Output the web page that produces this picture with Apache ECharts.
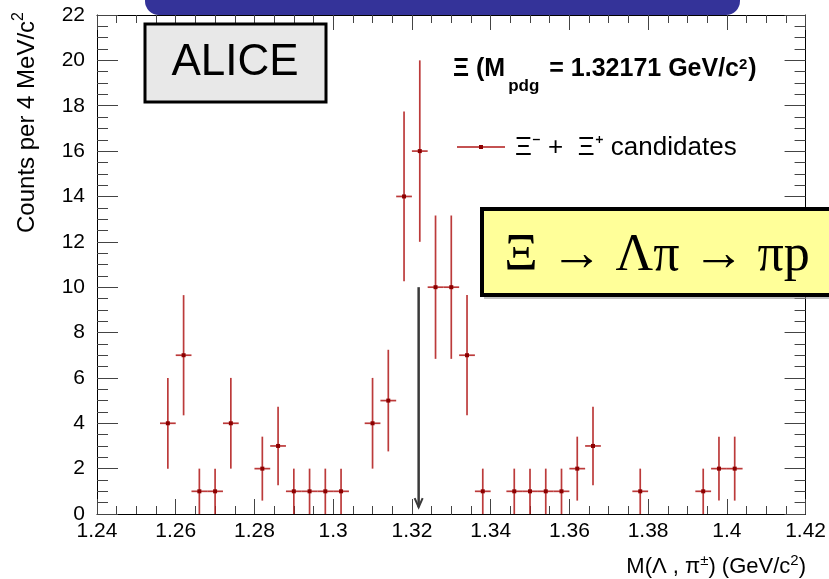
<!DOCTYPE html>
<html>
<head>
<meta charset="utf-8">
<script src="https://cdn.jsdelivr.net/npm/echarts@6/dist/echarts.min.js"></script>
<style>
  html, body { margin: 0; padding: 0; background: #fff; }
  #main { width: 829px; height: 579px; }
</style>
</head>
<body>
<div id="main"></div>
<script>
// bin centres (GeV/c^2), counts and their error bars
const binCenters = [1.258, 1.262, 1.266, 1.270, 1.274, 1.282, 1.286, 1.290, 1.294, 1.298,
  1.302, 1.310, 1.314, 1.318, 1.322, 1.326, 1.330, 1.334, 1.338, 1.346,
  1.350, 1.354, 1.358, 1.362, 1.366, 1.378, 1.394, 1.398, 1.402];
const counts = [4, 7, 1, 1, 4, 2, 3, 1, 1, 1,
  1, 4, 5, 14, 16, 10, 10, 7, 1, 1,
  1, 1, 1, 2, 3, 1, 1, 2, 2];
const errors = [2, 2.65, 1, 1, 2, 1.41, 1.73, 1, 1, 1,
  1, 2, 2.24, 3.74, 4, 3.16, 3.16, 2.65, 1, 1,
  1, 1, 1, 1.41, 1.73, 1, 1, 1.41, 1.41];
const binHalfWidth = 0.002;
const pdgMass = 1.32171;
const arrowRange = [10, 0.3];

const chart = echarts.init(document.getElementById('main'));
const FONT = 'Liberation Sans, Arial, sans-serif';
const RED = '#b01818';

const points = binCenters.map((x, i) => [x, counts[i], errors[i]]);

function renderErr(params, api) {
  const x = api.value(0), y = api.value(1), e = api.value(2);
  const lo = api.coord([x, Math.max(0, y - e)]);
  const hi = api.coord([x, y + e]);
  const l = api.coord([x - binHalfWidth, y]);
  const r = api.coord([x + binHalfWidth, y]);
  const c = api.coord([x, y]);
  const st = { stroke: RED, lineWidth: 1.7, opacity: 0.85 };
  return {
    type: 'group',
    children: [
      { type: 'line', shape: { x1: lo[0], y1: lo[1], x2: hi[0], y2: hi[1] }, style: st },
      { type: 'line', shape: { x1: l[0], y1: l[1], x2: r[0], y2: r[1] }, style: st },
      { type: 'rect', shape: { x: c[0] - 2, y: c[1] - 2, width: 4, height: 4 }, style: { fill: '#8c0000' } }
    ]
  };
}

function renderArrow(params, api) {
  const x = api.value(0);
  const top = api.coord([x, api.value(1)]);
  const tip = api.coord([x, api.value(2)]);
  const st = { stroke: '#3a3a3a', lineWidth: 2.5 };
  return {
    type: 'group',
    children: [
      { type: 'line', shape: { x1: top[0], y1: top[1], x2: tip[0], y2: tip[1] }, style: st },
      { type: 'polyline', shape: { points: [[tip[0] - 4, tip[1] - 9], [tip[0], tip[1]], [tip[0] + 4, tip[1] - 9]] },
        style: { stroke: '#3a3a3a', lineWidth: 2, fill: null } }
    ]
  };
}

const xBase = {
  type: 'value', min: 1.24, max: 1.42, interval: 0.02,
  axisLine: { show: true, onZero: false, lineStyle: { color: '#000', width: 1 } },
  axisTick: { show: true, inside: true, length: 15, lineStyle: { color: '#444' } },
  minorTick: { show: true, splitNumber: 4, length: 8, lineStyle: { color: '#444' } },
  splitLine: { show: false }
};
const yBase = {
  type: 'value', min: 0, max: 22, interval: 2,
  axisLine: { show: true, onZero: false, lineStyle: { color: '#000', width: 1 } },
  axisTick: { show: true, inside: true, length: 21, lineStyle: { color: '#444' } },
  minorTick: { show: true, splitNumber: 4, length: 11, lineStyle: { color: '#444' } },
  splitLine: { show: false }
};

chart.setOption({
  animation: false,
  backgroundColor: '#fff',
  grid: { left: 97, right: 23, top: 15, bottom: 65, containLabel: false },
  xAxis: [
    Object.assign({}, xBase, {
      position: 'bottom',
      axisLabel: { color: '#000', fontSize: 21, fontFamily: FONT, margin: 7,
        formatter: v => String(Math.round(v * 100) / 100) }
    }),
    Object.assign({}, xBase, { position: 'top', axisLabel: { show: false } })
  ],
  yAxis: [
    Object.assign({}, yBase, {
      position: 'left',
      axisLabel: { color: '#000', fontSize: 21, fontFamily: FONT, margin: 12 }
    }),
    Object.assign({}, yBase, { position: 'right', axisLabel: { show: false } })
  ],
  series: [
    { type: 'custom', xAxisIndex: 0, yAxisIndex: 0, renderItem: renderErr, data: points, z: 3 },
    { type: 'custom', xAxisIndex: 0, yAxisIndex: 0, renderItem: renderArrow,
      data: [[pdgMass, arrowRange[0], arrowRange[1]]], z: 4 }
  ],
  graphic: [
    // blue header bar cut by the top edge
    { type: 'rect', z: 100, shape: { x: 145, y: -20, width: 595, height: 35, r: 14 },
      style: { fill: '#343399' } },
    // ALICE box
    { type: 'rect', z: 100, shape: { x: 145, y: 24, width: 181, height: 78 },
      style: { fill: '#e8e8e8', stroke: '#000', lineWidth: 3 } },
    { type: 'text', z: 101, x: 235, y: 63,
      style: { text: 'ALICE', fontSize: 44, fontFamily: FONT, fill: '#000', align: 'center', verticalAlign: 'middle' } },
    // legend header
    { type: 'text', z: 101, x: 453, y: 57,
      style: {
        text: '{a|Ξ (M}{s|pdg}{a| = 1.32171 GeV/c}{p|2}{a|)}',
        fill: '#000', align: 'left', verticalAlign: 'top',
        rich: {
          a: { fontSize: 25, fontWeight: 'bold', fontFamily: FONT, verticalAlign: 'top', lineHeight: 30 },
          s: { fontSize: 17, fontWeight: 'bold', fontFamily: FONT, verticalAlign: 'top', padding: [21, 3, 0, 3] },
          p: { fontSize: 15, fontWeight: 'bold', fontFamily: FONT, verticalAlign: 'top', padding: [0, 1, 0, 0], lineHeight: 18 }
        }
      } },
    // legend entry
    { type: 'line', z: 101, shape: { x1: 457, y1: 147, x2: 505, y2: 147 },
      style: { stroke: RED, lineWidth: 1.7 } },
    { type: 'rect', z: 101, shape: { x: 479, y: 145, width: 4, height: 4 }, style: { fill: '#8c0000' } },
    { type: 'text', z: 101, x: 515, y: 148,
      style: { text: 'Ξ⁻ +  Ξ⁺ candidates', fontSize: 26, fontFamily: FONT, fill: '#000',
        align: 'left', verticalAlign: 'middle' } },
    // decay box
    { type: 'rect', z: 100, shape: { x: 484, y: 211, width: 360, height: 88 },
      style: { fill: '#999', opacity: 0.6 } },
    { type: 'rect', z: 101, shape: { x: 482, y: 209, width: 360, height: 86 },
      style: { fill: '#ffff99', stroke: '#000', lineWidth: 4 } },
    { type: 'text', z: 102, x: 657, y: 256,
      style: { text: 'Ξ → Λπ → πp', fontSize: 52, fontFamily: 'Liberation Serif, Times New Roman, serif',
        fill: '#000', align: 'center', verticalAlign: 'middle' } },
    // axis titles
    { type: 'text', z: 101, x: 25, y: 12, rotation: Math.PI / 2,
      style: {
        text: '{a|Counts per 4 MeV/c}{p|2}',
        fill: '#000', align: 'right', verticalAlign: 'middle',
        rich: {
          a: { fontSize: 24, fontFamily: FONT, verticalAlign: 'bottom', lineHeight: 28 },
          p: { fontSize: 16, fontFamily: FONT, verticalAlign: 'top', lineHeight: 16 }
        }
      } },
    { type: 'text', z: 101, x: 806, y: 553,
      style: {
        text: '{a|M(Λ , π}{p|±}{a|) (GeV/c}{p|2}{a|)}',
        fill: '#000', align: 'right', verticalAlign: 'top',
        rich: {
          a: { fontSize: 22, fontFamily: FONT, verticalAlign: 'top', lineHeight: 26, padding: [3, 0, 0, 0] },
          p: { fontSize: 15, fontFamily: FONT, verticalAlign: 'top', lineHeight: 16 }
        }
      } }
  ]
});
</script>
</body>
</html>
